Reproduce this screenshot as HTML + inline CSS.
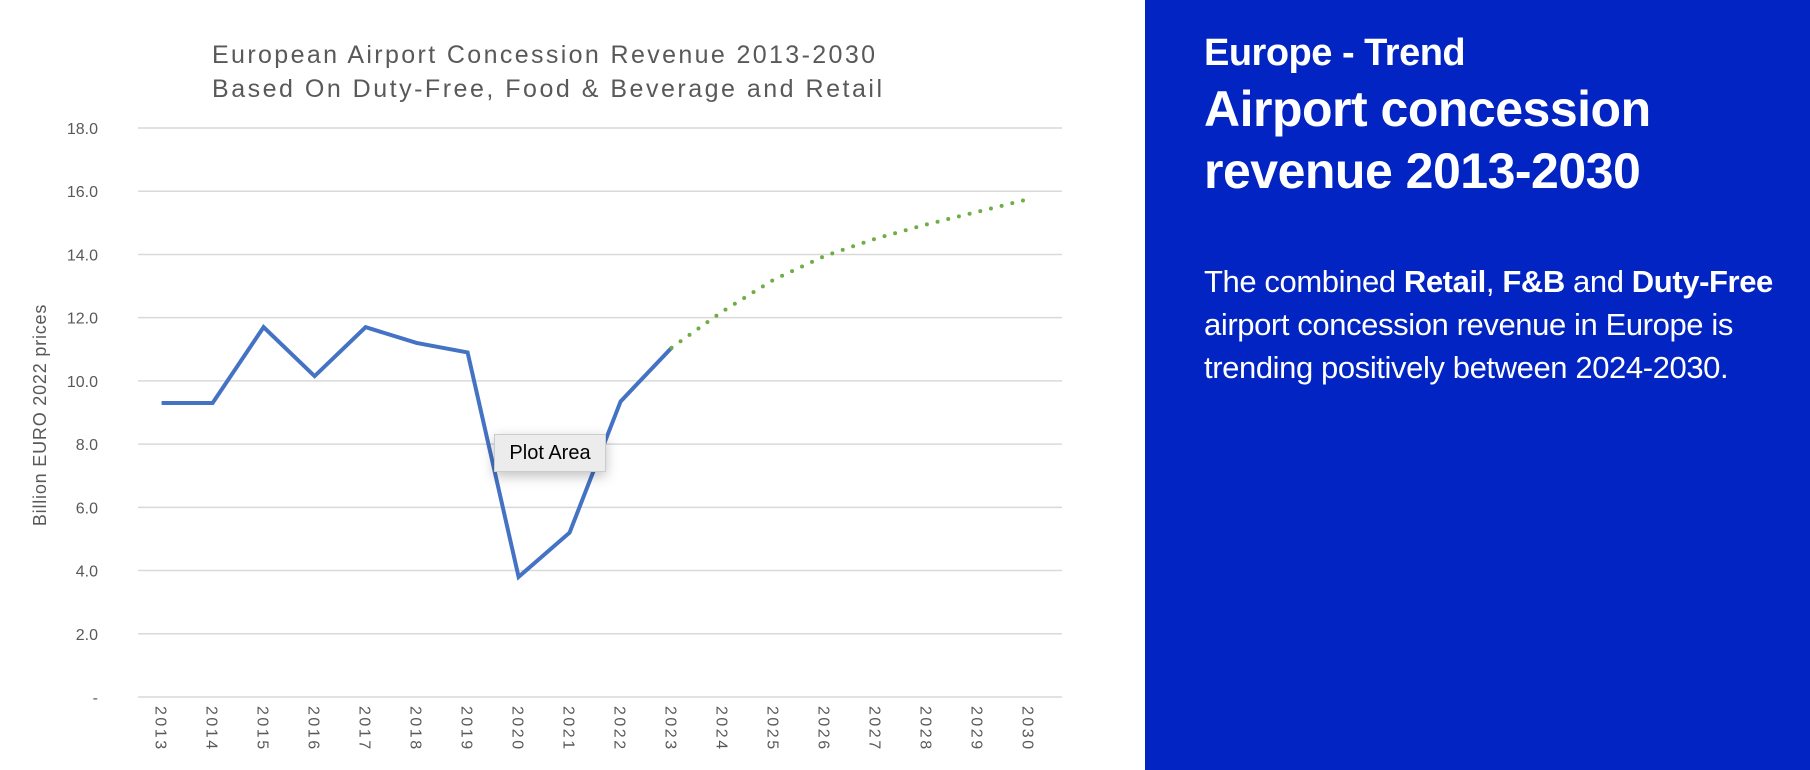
<!DOCTYPE html>
<html><head><meta charset="utf-8"><style>
body{margin:0;width:1810px;height:770px;overflow:hidden;background:#fff;font-family:"Liberation Sans",sans-serif;position:relative}
#panel{position:absolute;left:1145px;top:0;width:665px;height:770px;background:#0224c2;color:#fff}
#panel .h1{position:absolute;left:59px;top:32px;font-size:38px;font-weight:bold;letter-spacing:-0.5px;white-space:nowrap}
#panel .h2{position:absolute;left:59px;top:78px;font-size:50px;font-weight:bold;line-height:62px;letter-spacing:-0.5px;white-space:nowrap}
#panel .body{position:absolute;left:59px;top:260px;font-size:31px;line-height:43px;letter-spacing:-0.4px;white-space:nowrap}
#tip{position:absolute;left:494px;top:434px;width:110px;height:36px;background:#ececec;border:1px solid #ccc;box-shadow:0 4px 12px rgba(0,0,0,.25);font-size:20px;line-height:36px;text-align:center;color:#000}
</style></head><body>
<svg id="chart" width="1140" height="770" style="position:absolute;left:0;top:0"></svg>
<div id="tip">Plot Area</div>
<div id="panel">
<div class="h1">Europe - Trend</div>
<div class="h2">Airport concession<br>revenue 2013-2030</div>
<div class="body">The combined <b>Retail</b>, <b>F&amp;B</b> and <b>Duty-Free</b><br>airport concession revenue in Europe is<br>trending positively between 2024-2030.</div>
</div>
<script>
const years=["2013","2014","2015","2016","2017","2018","2019","2020","2021","2022","2023","2024","2025","2026","2027","2028","2029","2030"];
const actual=[9.3,9.3,11.7,10.15,11.7,11.2,10.9,3.8,5.2,9.35,11.05];
const forecast=[11.05,12.2,13.2,13.95,14.5,14.95,15.35,15.75];
const yTicks=[0,2,4,6,8,10,12,14,16,18];
const yTickLabels=["-","2.0","4.0","6.0","8.0","10.0","12.0","14.0","16.0","18.0"];
const NS="http://www.w3.org/2000/svg";
const svg=document.getElementById('chart');
const L=138,R=1062,T=128,B=697;
const y=v=>B-(v/18)*(B-T);
const x=i=>161.6+i*51;
function mk(t,a,txt){const e=document.createElementNS(NS,t);for(const k in a)e.setAttribute(k,a[k]);if(txt!==undefined)e.textContent=txt;svg.appendChild(e);return e;}
let e;
e=mk('text',{x:212,y:63,'font-size':25,fill:'#595959',textLength:663,lengthAdjust:'spacing'},'European Airport Concession Revenue 2013-2030');


e=mk('text',{x:212,y:97,'font-size':25,fill:'#595959',textLength:670,lengthAdjust:'spacing'},'Based On Duty-Free, Food & Beverage and Retail');


yTicks.forEach((v,i)=>{
 e=mk('line',{x1:L,x2:R,y1:y(v),y2:y(v),stroke:'#d9d9d9','stroke-width':1.5});
 
 
 e=mk('text',{x:98,y:y(v)+6,'text-anchor':'end','font-size':16,fill:'#595959'},yTickLabels[i]);
 
 
});
e=mk('text',{x:0,y:0,transform:'translate(46,415) rotate(-90)','text-anchor':'middle','font-size':18,fill:'#595959','letter-spacing':'0.8'},'Billion EURO 2022 prices');


years.forEach((yr,i)=>{
 e=mk('text',{x:0,y:0,transform:`translate(${x(i)-6},706) rotate(90)`,'font-size':16,fill:'#595959','letter-spacing':'2.5'},yr);
 
 
});
e=mk('polyline',{points:actual.map((v,i)=>x(i)+','+y(v)).join(' '),fill:'none',stroke:'#4472c4','stroke-width':4,'stroke-linejoin':'miter'});


e=mk('polyline',{points:forecast.map((v,i)=>x(i+10)+','+y(v)).join(' '),fill:'none',stroke:'#70ad47','stroke-width':4,'stroke-dasharray':'0 11','stroke-linecap':'round'});


</script>
</body></html>
